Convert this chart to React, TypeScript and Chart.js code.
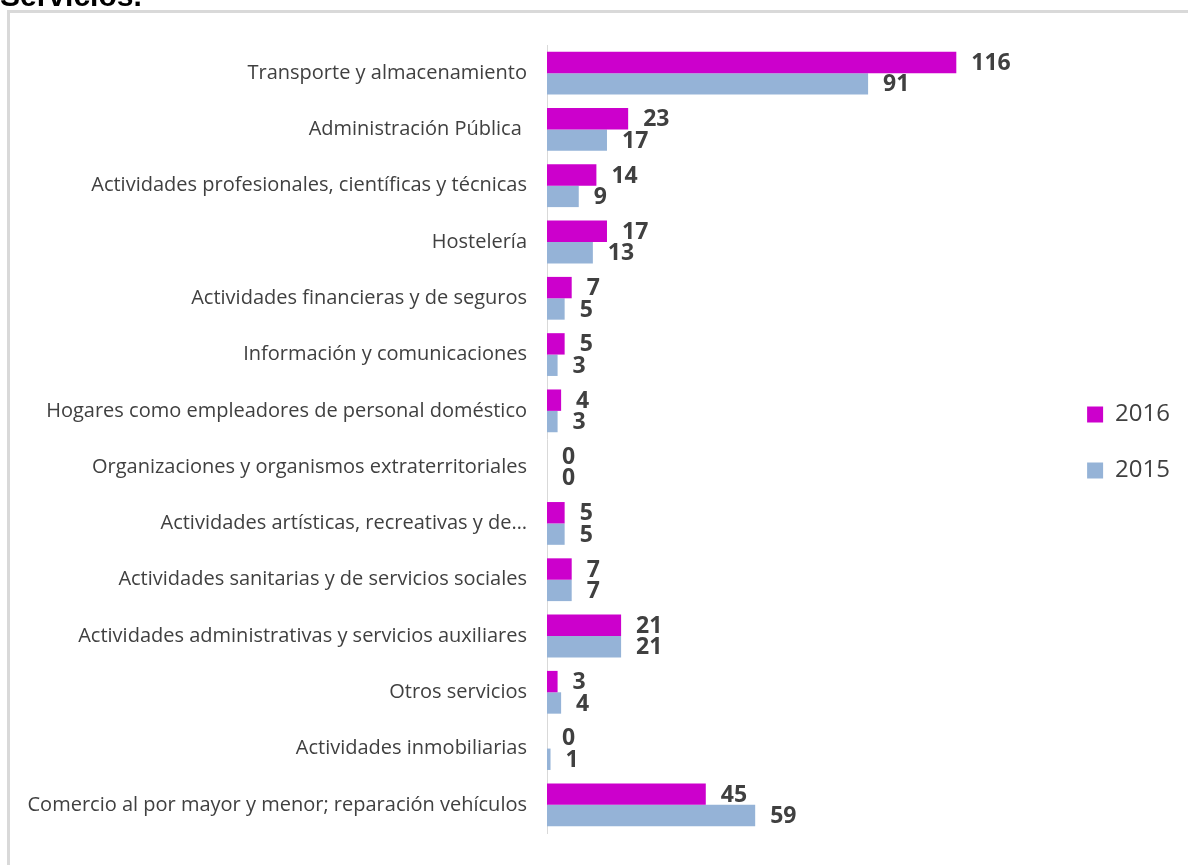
import React, { useEffect, useRef } from "react";
import { Chart, registerables } from "chart.js";

Chart.register(...registerables);

const categories: string[] = [
  "Transporte y almacenamiento",
  "Administración Pública ",
  "Actividades profesionales, científicas y técnicas",
  "Hostelería",
  "Actividades financieras y de seguros",
  "Información y comunicaciones",
  "Hogares como empleadores de personal doméstico",
  "Organizaciones y organismos extraterritoriales",
  "Actividades artísticas, recreativas y de…",
  "Actividades sanitarias y de servicios sociales",
  "Actividades administrativas y servicios auxiliares",
  "Otros servicios",
  "Actividades inmobiliarias",
  "Comercio al por mayor y menor; reparación vehículos",
];

const values2016: number[] = [116, 23, 14, 17, 7, 5, 4, 0, 5, 7, 21, 3, 0, 45];
const values2015: number[] = [91, 17, 9, 13, 5, 3, 3, 0, 5, 7, 21, 4, 1, 59];

const seriesLabels: string[] = ["2016", "2015"];
const title = "Servicios.";

const TEXT = "#404040";
const MAGENTA = "#CC00CC";
const BLUE = "#95B3D7";
const FONT = "'Open Sans'";

const dataLabelPlugin = {
  id: "dataLabels",
  afterDatasetsDraw(chart: any) {
    const ctx = chart.ctx;
    ctx.save();
    ctx.font = "bold 23px 'Open Sans'";
    ctx.fillStyle = TEXT;
    ctx.textAlign = "left";
    ctx.textBaseline = "middle";
    chart.data.datasets.forEach((ds: any, di: number) => {
      const meta = chart.getDatasetMeta(di);
      meta.data.forEach((el: any, i: number) => {
        ctx.fillText(String(ds.data[i]), el.x + 15, el.y + 1);
      });
    });
    ctx.restore();
  },
};

export default function App() {
  const ref = useRef<HTMLCanvasElement | null>(null);

  useEffect(() => {
    if (!ref.current) return;
    const chart = new Chart(ref.current, {
      type: "bar",
      data: {
        labels: categories,
        datasets: [
          {
            label: seriesLabels[0],
            data: values2016,
            backgroundColor: MAGENTA,
            barPercentage: 1,
            categoryPercentage: 0.76,
          },
          {
            label: seriesLabels[1],
            data: values2015,
            backgroundColor: BLUE,
            barPercentage: 1,
            categoryPercentage: 0.76,
          },
        ],
      },
      options: {
        indexAxis: "y",
        animation: false,
        responsive: false,
        maintainAspectRatio: false,
        layout: { padding: { top: 32, bottom: 25, left: 0, right: 8 } },
        scales: {
          x: {
            display: false,
            min: 0,
            max: 144,
          },
          y: {
            grid: { display: false, drawTicks: false },
            border: { display: true, color: "#d9d9d9", width: 1 },
            ticks: {
              color: TEXT,
              font: { family: FONT, size: 20 },
              padding: 20,
              autoSkip: false,
            },
            afterFit: (scale: any) => {
              scale.width = 537;
            },
          },
        },
        plugins: {
          legend: {
            position: "right",
            labels: {
              boxWidth: 16,
              boxHeight: 16,
              padding: 32,
              color: TEXT,
              font: { family: FONT, size: 24 },
            },
          },
          tooltip: { enabled: false },
          title: { display: false },
        },
      },
      plugins: [dataLabelPlugin],
    });
    return () => chart.destroy();
  }, []);

  return (
    <div>
      <div
        style={{
          position: "fixed",
          left: 0,
          top: -19,
          fontFamily: "'Liberation Sans', Arial, sans-serif",
          fontWeight: "bold",
          fontSize: 30,
          lineHeight: "30px",
          color: "#000",
          whiteSpace: "nowrap",
        }}
      >
        {title}
      </div>
      <div
        style={{
          position: "fixed",
          left: 7,
          top: 10,
          width: 1300,
          height: 1000,
          borderTop: "3px solid #d9d9d9",
          borderLeft: "3px solid #d9d9d9",
          boxSizing: "border-box",
        }}
      />
      <canvas
        ref={ref}
        width={1178}
        height={852}
        style={{ position: "fixed", left: 10, top: 13, width: 1178, height: 852 }}
      />
    </div>
  );
}
